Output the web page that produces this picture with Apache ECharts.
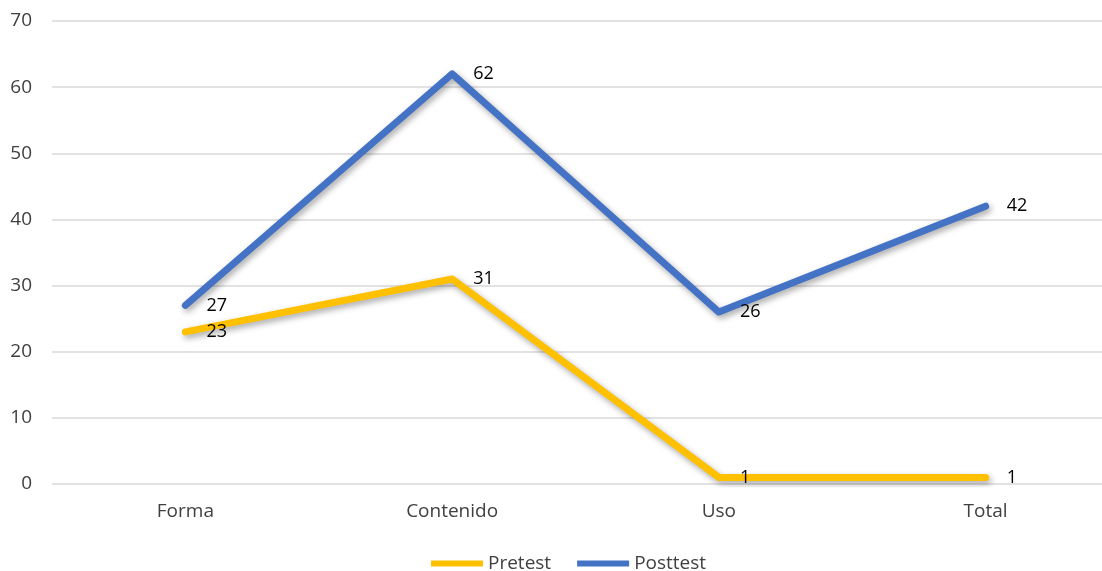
<!DOCTYPE html>
<html>
<head>
<meta charset="utf-8">
<script src="https://cdn.jsdelivr.net/npm/echarts@6/dist/echarts.min.js"></script>
<style>
  html, body { margin: 0; padding: 0; background: #fff; overflow: hidden; }
  /* plot area runs past the right edge of the picture, like the reference */
  #chart { width: 1119px; height: 571px; }
</style>
</head>
<body>
<div id="chart"></div>
<script>
const categories = ['Forma', 'Contenido', 'Uso', 'Total'];
const pretest = [23, 31, 1, 1];
const posttest = [27, 62, 26, 42];
const yTicks = { min: 0, max: 70, interval: 10 };

const chart = echarts.init(document.getElementById('chart'));

const font = 'Open Sans, sans-serif';

function lineSeries(name, values, color) {
  return {
    name,
    type: 'line',
    data: values,
    symbol: 'circle',
    symbolSize: 2, // tiny dot hidden under the thick line, needed so labels show
    showSymbol: true,
    lineStyle: {
      width: 7,
      color,
      cap: 'round',
      join: 'round',
      shadowColor: 'rgba(0,0,0,0.35)',
      shadowBlur: 6,
      shadowOffsetX: 2,
      shadowOffsetY: 3,
    },
    itemStyle: { color },
    label: {
      show: true,
      position: 'right',
      distance: 20,
      color: '#000',
      fontFamily: font,
      fontSize: 18,
    },
    emphasis: { disabled: true },
  };
}

chart.setOption({
  animation: false,
  grid: { left: 52, right: 0, top: 21, bottom: 87 },
  legend: {
    top: 549,
    left: 426,
    itemWidth: 52,
    itemHeight: 6,
    itemGap: 26,
    icon: 'rect',
    textStyle: { color: '#404040', fontFamily: font, fontSize: 19 },
    data: ['Pretest', 'Posttest'],
  },
  xAxis: {
    type: 'category',
    data: categories,
    axisLine: { show: false },
    axisTick: { show: false },
    axisLabel: { color: '#404040', fontFamily: font, fontSize: 19, margin: 18 },
  },
  yAxis: {
    type: 'value',
    min: yTicks.min,
    max: yTicks.max,
    interval: yTicks.interval,
    axisLabel: { color: '#404040', fontFamily: font, fontSize: 19, margin: 20 },
    splitLine: { lineStyle: { color: '#d9d9d9', width: 1.5 } },
  },
  series: [
    lineSeries('Pretest', pretest, '#FFC000'),
    lineSeries('Posttest', posttest, '#4472C4'),
  ],
});
</script>
</body>
</html>
